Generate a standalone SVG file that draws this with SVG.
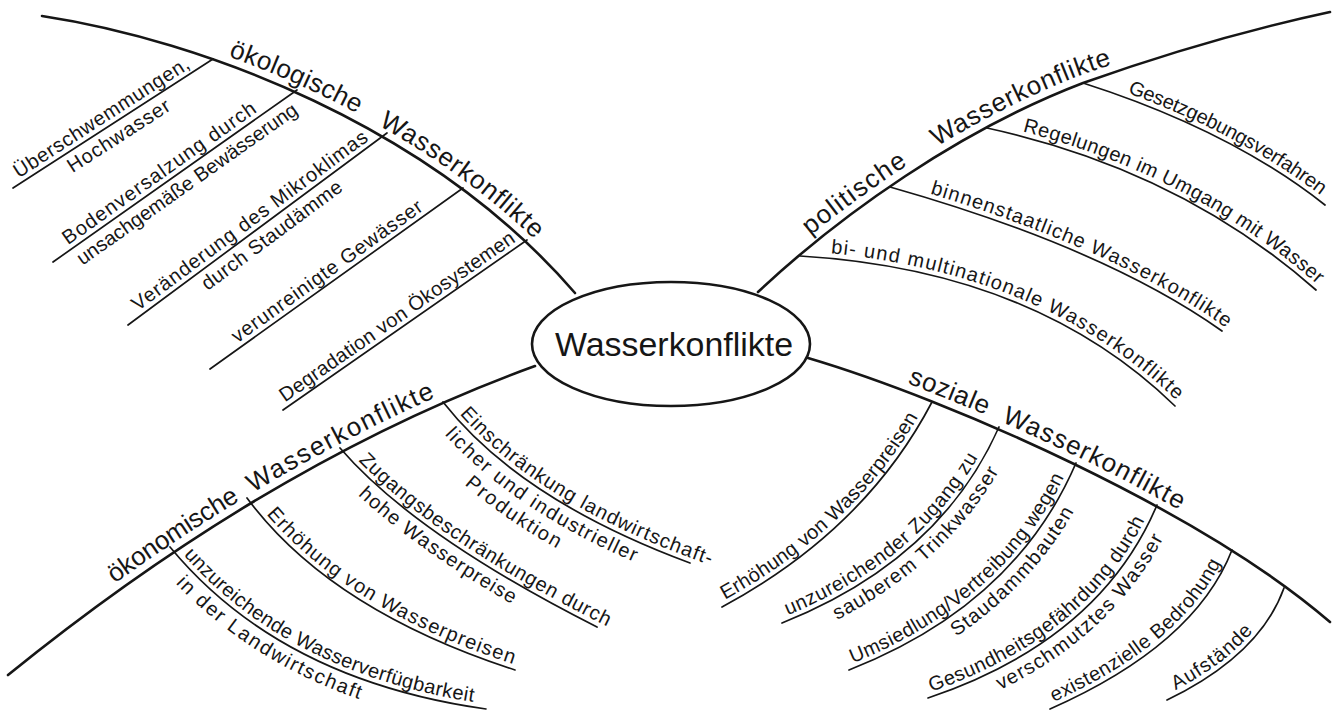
<svg xmlns="http://www.w3.org/2000/svg" width="1333" height="711" viewBox="0 0 1333 711">
<style>
.main{fill:none;stroke:#161616;stroke-width:2.6;stroke-linecap:round}
.sub{fill:none;stroke:#161616;stroke-width:1.7;stroke-linecap:round}
.lbl{font-family:"Liberation Sans","DejaVu Sans",sans-serif;font-size:20px;fill:#161616}
.big{font-size:26px}
.ctr{font-family:"Liberation Sans","DejaVu Sans",sans-serif;font-size:34px;fill:#161616}
</style>
<defs>
<path id="e1x" d="M443,402 Q520,500 690,563 L728,577"/>
<path id="e2x" d="M340,448 Q415,535 597,627 L633,645"/>
</defs>
<rect width="1333" height="711" fill="#fff"/>
<g id="connectors">
<path id="m-oek" class="main" d="M42,16 C200,40 430,125 575,293"/>
<path id="m-pol" class="main" d="M758,292 C840,215 960,130 1083,83 C1170,52 1260,27 1330,12"/>
<path id="m-oekon" class="main" d="M8,675 C150,560 330,440 535,366"/>
<path id="m-soz" class="main" d="M808,358 C950,400 1200,510 1330,622"/>
<path id="o1" class="sub" d="M13,188 L213,59"/>
<path id="o2" class="sub" d="M53,262 L297,90"/>
<path id="o3" class="sub" d="M128,325 L387,133"/>
<path id="o4" class="sub" d="M210,369 L463,188"/>
<path id="o5" class="sub" d="M283,410 L527,240"/>
<path id="p1" class="sub" d="M1083,83 Q1230,130 1325,205"/>
<path id="p2" class="sub" d="M987,128 Q1180,170 1316,290"/>
<path id="p3" class="sub" d="M890,187 Q1105,248 1222,331"/>
<path id="p4" class="sub" d="M800,256 Q1035,270 1175,406"/>
<path id="e1" class="sub" d="M443,402 Q520,500 690,563"/>
<path id="e2" class="sub" d="M340,448 Q415,535 597,627"/>
<path id="e3" class="sub" d="M247,498 Q330,610 515,670"/>
<path id="e4" class="sub" d="M170,547 Q280,680 486,709"/>
<path id="s1" class="sub" d="M722,607 Q865,530 932,402"/>
<path id="s2" class="sub" d="M782,623 Q940,560 999,427"/>
<path id="s3" class="sub" d="M849,670 Q1015,605 1076,463"/>
<path id="s4" class="sub" d="M928,698 Q1100,640 1157,505"/>
<path id="s5" class="sub" d="M1050,709 Q1195,645 1232,550"/>
<path id="s6" class="sub" d="M1167,700 Q1260,655 1284,588"/>
</g>
<g id="center">
<ellipse cx="671" cy="344" rx="139" ry="62" fill="#fff" stroke="#161616" stroke-width="2.6"/>
<text class="ctr" x="555" y="356" textLength="238" lengthAdjust="spacingAndGlyphs">Wasserkonflikte</text>
</g>
<g id="oekologisch">
<text class="lbl big" dy="-8"><textPath href="#m-oek" startOffset="190" textLength="140">ökologische</textPath></text>
<text class="lbl big" dy="-8"><textPath href="#m-oek" startOffset="354" textLength="192">Wasserkonflikte</textPath></text>
<text class="lbl" dy="-5"><textPath href="#o1" startOffset="10" textLength="205">Überschwemmungen,</textPath></text>
<text class="lbl" dy="20"><textPath href="#o1" startOffset="58" textLength="118">Hochwasser</textPath></text>
<text class="lbl" dy="-5"><textPath href="#o2" startOffset="22" textLength="232">Bodenversalzung durch</textPath></text>
<text class="lbl" dy="20"><textPath href="#o2" startOffset="22" textLength="265">unsachgemäße Bewässerung</textPath></text>
<text class="lbl" dy="-5"><textPath href="#o3" startOffset="16" textLength="288">Veränderung des Mikroklimas</textPath></text>
<text class="lbl" dy="20"><textPath href="#o3" startOffset="84" textLength="170">durch Staudämme</textPath></text>
<text class="lbl" dy="-5"><textPath href="#o4" startOffset="37" textLength="230">verunreinigte Gewässer</textPath></text>
<text class="lbl" dy="-5"><textPath href="#o5" startOffset="6" textLength="282">Degradation von Ökosystemen</textPath></text>
</g>
<g id="politisch">
<text class="lbl big" dy="-8"><textPath href="#m-pol" startOffset="76" textLength="120">politische</textPath></text>
<text class="lbl big" dy="-8"><textPath href="#m-pol" startOffset="230" textLength="192">Wasserkonflikte</textPath></text>
<text class="lbl" dy="-5"><textPath href="#p1" startOffset="45" textLength="218">Gesetzgebungsverfahren</textPath></text>
<text class="lbl" dy="-5"><textPath href="#p2" startOffset="35" textLength="333">Regelungen im Umgang mit Wasser</textPath></text>
<text class="lbl" dy="-5"><textPath href="#p3" startOffset="40" textLength="325">binnenstaatliche Wasserkonflikte</textPath></text>
<text class="lbl" dy="-5"><textPath href="#p4" startOffset="30" textLength="380">bi- und multinationale Wasserkonflikte</textPath></text>
</g>
<g id="oekonomisch">
<text class="lbl big" dy="-8"><textPath href="#m-oekon" startOffset="140" textLength="150">ökonomische</textPath></text>
<text class="lbl big" dy="-8"><textPath href="#m-oekon" startOffset="305" textLength="205">Wasserkonflikte</textPath></text>
<text class="lbl" dy="-5"><textPath href="#e1x" startOffset="20" textLength="298">Einschränkung landwirtschaft-</textPath></text>
<text class="lbl" dy="20"><textPath href="#e1x" startOffset="25" textLength="222">licher und industrieller</textPath></text>
<text class="lbl" dy="42"><textPath href="#e1x" startOffset="70" textLength="105">Produktion</textPath></text>
<text class="lbl" dy="-5"><textPath href="#e2x" startOffset="22" textLength="302">Zugangsbeschränkungen durch</textPath></text>
<text class="lbl" dy="20"><textPath href="#e2x" startOffset="45" textLength="185">hohe Wasserpreise</textPath></text>
<text class="lbl" dy="-5"><textPath href="#e3" startOffset="25" textLength="295">Erhöhung von Wasserpreisen</textPath></text>
<text class="lbl" dy="-5"><textPath href="#e4" startOffset="15" textLength="335">unzureichende Wasserverfügbarkeit</textPath></text>
<text class="lbl" dy="20"><textPath href="#e4" startOffset="30" textLength="210">in der Landwirtschaft</textPath></text>
</g>
<g id="sozial">
<text class="lbl big" dy="-8"><textPath href="#m-soz" startOffset="102" textLength="84">soziale</textPath></text>
<text class="lbl big" dy="-8"><textPath href="#m-soz" startOffset="203" textLength="198">Wasserkonflikte</textPath></text>
<text class="lbl" dy="-5"><textPath href="#s1" startOffset="6" textLength="272">Erhöhung von Wasserpreisen</textPath></text>
<text class="lbl" dy="-5"><textPath href="#s2" startOffset="8" textLength="255">unzureichender Zugang zu</textPath></text>
<text class="lbl" dy="20"><textPath href="#s2" startOffset="50" textLength="212">sauberem Trinkwasser</textPath></text>
<text class="lbl" dy="-5"><textPath href="#s3" startOffset="6" textLength="292">Umsiedlung/Vertreibung wegen</textPath></text>
<text class="lbl" dy="20"><textPath href="#s3" startOffset="108" textLength="165">Staudammbauten</textPath></text>
<text class="lbl" dy="-5"><textPath href="#s4" startOffset="5" textLength="285">Gesundheitsgefährdung durch</textPath></text>
<text class="lbl" dy="20"><textPath href="#s4" startOffset="68" textLength="215">verschmutztes Wasser</textPath></text>
<text class="lbl" dy="-5"><textPath href="#s5" startOffset="6" textLength="225">existenzielle Bedrohung</textPath></text>
<text class="lbl" dy="-5"><textPath href="#s6" startOffset="12" textLength="100">Aufstände</textPath></text>
</g>
</svg>
